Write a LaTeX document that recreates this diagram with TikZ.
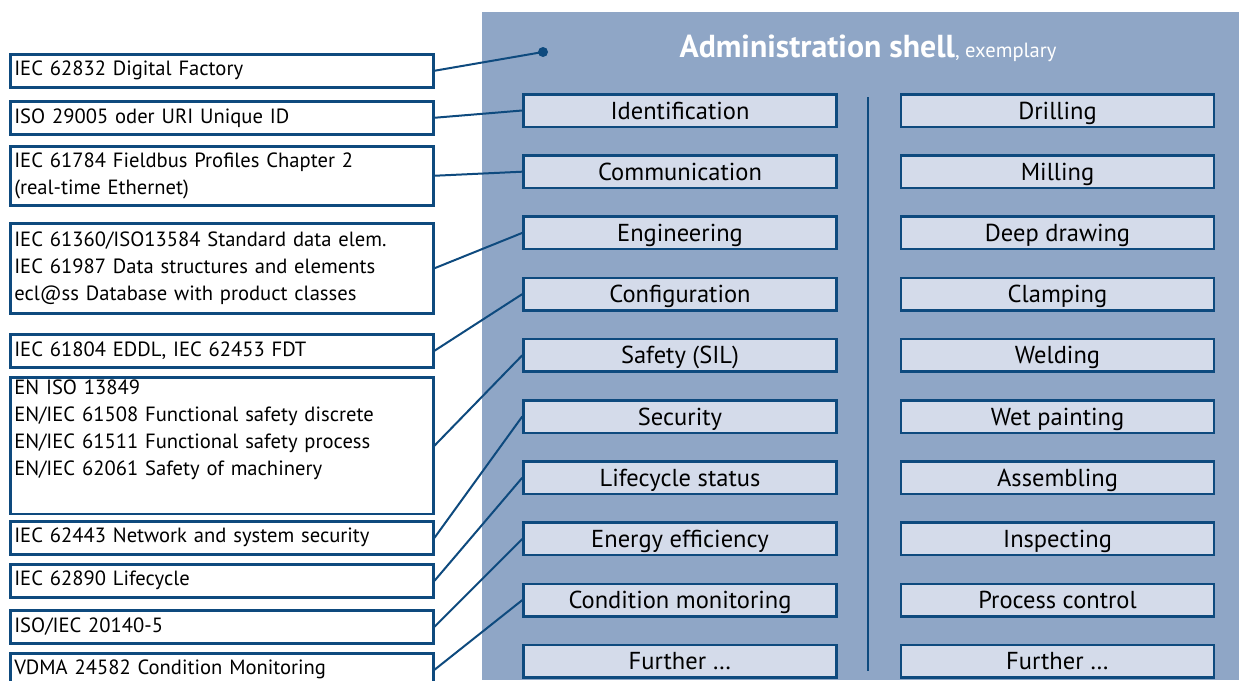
\documentclass[tikz,border=0pt]{standalone}
\usepackage{fontspec}
\setmainfont{PT Sans}
\usepackage{xcolor}
\usepackage{tikz}
\usetikzlibrary{positioning}
\definecolor{shellblue}{HTML}{8FA6C6}
\definecolor{boxfill}{HTML}{D4DBEA}
\definecolor{edgeblue}{HTML}{0E4A7E}
\tikzset{std box/.style={rectangle,fill=white,draw=edgeblue,line width=2.5pt,text width=415pt,inner xsep=4pt,inner ysep=3pt,align=left,minimum height=33pt,font=\fontsize{20.6}{27}\selectfont},}
\tikzset{aspect box/.style={rectangle,fill=boxfill,draw=edgeblue,line width=2.5pt,minimum width=313pt,minimum height=32.5pt,inner sep=0pt,text height=17pt,text depth=0pt,font=\fontsize{24.5}{27}\selectfont},}
\tikzstyle{link} = [edgeblue,line width=2pt]

\begin{document}
\begin{tikzpicture}[x=1pt,y=-1pt]
    \useasboundingbox (0,0) rectangle (1239,680);
    \fill[shellblue] (482,12) rectangle (1239,680);
    \node[text=white] (title) at (868,48) {\fontsize{31.8}{34}\selectfont\bfseries Administration shell\fontsize{20.6}{22}\selectfont\mdseries, exemplary};
    \coordinate (dot) at (543,52);
    \fill[edgeblue] (dot) circle (5pt);

    % standards
    \node[std box,anchor=north west] (s1) at (9,53) {IEC 62832 Digital Factory};
    \node[std box,anchor=north west] (s2) at (9,100) {ISO 29005 oder URI Unique ID};
    \node[std box,anchor=north west,minimum height=59pt] (s3) at (9,145) {IEC 61784 Fieldbus Profiles Chapter 2\\(real-time Ethernet)};
    \node[std box,anchor=north west,minimum height=90pt] (s4) at (9,222) {IEC 61360/ISO13584 Standard data elem.\\IEC 61987 Data structures and elements\\ecl@ss Database with product classes};
    \node[std box,anchor=north west] (s5) at (9,333) {IEC 61804 EDDL, IEC 62453 FDT};
    \node[std box,anchor=north west,minimum height=133pt] (s6) at (9,376) {EN ISO 13849\\EN/IEC 61508 Functional safety discrete\\EN/IEC 61511 Functional safety process\\EN/IEC 62061 Safety of machinery\\\strut};
    \node[std box,anchor=north west] (s7) at (9,520) {IEC 62443 Network and system security};
    \node[std box,anchor=north west] (s8) at (9,563) {IEC 62890 Lifecycle};
    \node[std box,anchor=north west] (s9) at (9,609) {ISO/IEC 20140-5};
    \node[std box,anchor=north west] (s10) at (9,652) {VDMA 24582 Condition Monitoring};

    % aspects
    \node[aspect box] (a1) at (680,110.5) {Identification};
    \node[aspect box,below=26.2pt of a1] (a2) {Communication};
    \node[aspect box,below=26.2pt of a2] (a3) {Engineering};
    \node[aspect box,below=26.2pt of a3] (a4) {Configuration};
    \node[aspect box,below=26.2pt of a4] (a5) {Safety (SIL)};
    \node[aspect box,below=26.2pt of a5] (a6) {Security};
    \node[aspect box,below=26.2pt of a6] (a7) {Lifecycle status};
    \node[aspect box,below=26.2pt of a7] (a8) {Energy efficiency};
    \node[aspect box,below=26.2pt of a8] (a9) {Condition monitoring};
    \node[aspect box,below=26.2pt of a9] (a10) {Further \dots};

    % capabilities
    \node[aspect box,right=62pt of a1] (c1) {Drilling};
    \node[aspect box,right=62pt of a2] (c2) {Milling};
    \node[aspect box,right=62pt of a3] (c3) {Deep drawing};
    \node[aspect box,right=62pt of a4] (c4) {Clamping};
    \node[aspect box,right=62pt of a5] (c5) {Welding};
    \node[aspect box,right=62pt of a6] (c6) {Wet painting};
    \node[aspect box,right=62pt of a7] (c7) {Assembling};
    \node[aspect box,right=62pt of a8] (c8) {Inspecting};
    \node[aspect box,right=62pt of a9] (c9) {Process control};
    \node[aspect box,right=62pt of a10] (c10) {Further \dots};

    \draw[link] (868,97) -- (868,671);
    \draw[link] (s1.east) -- (dot);
    \foreach \i/\j in {2/1,3/2,4/3,5/4,6/5,7/6,8/7,9/8,10/9}
        \draw[link] (s\i.east) -- (a\j.west);
\end{tikzpicture}
\end{document}
